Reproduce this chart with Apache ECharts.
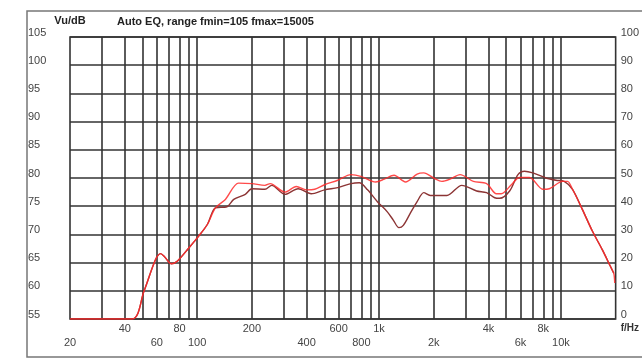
<!DOCTYPE html>
<html>
<head>
<meta charset="utf-8">
<script src="https://cdn.jsdelivr.net/npm/echarts@6/dist/echarts.min.js"></script>
<style>
  html, body {margin: 0; padding: 0; background: #fff;}
  #chart {width: 642px; height: 358px;}
</style>
</head>
<body>
<div id="chart"></div>
<script>
// frequency grid and tick labels (Hz)
const gridFreqs = [30, 40, 50, 60, 70, 80, 90, 100, 200, 300, 400, 500, 600, 700, 800, 900,
  1000, 2000, 3000, 4000, 5000, 6000, 7000, 8000, 9000, 10000];
const upperLabels = [40, 80, 200, 600, 1000, 4000, 8000];
const lowerLabels = [20, 60, 100, 400, 800, 2000, 6000, 10000];

// red curve
const redFreq = [20, 44, 51, 59, 63, 66, 72, 78, 90, 102, 114, 126, 143, 169, 200, 236, 252,
  304, 351, 399, 443, 502, 593, 701, 795, 959, 1070, 1209, 1399, 1620, 1762, 1998, 2216, 2460,
  2790, 3302, 3902, 4422, 4700, 5340, 5924, 6718, 7948, 8634, 10218, 10878, 11586, 13136,
  14890, 16884, 18738, 19526, 19772];
const redDb = [55, 55, 59.9, 65.5, 66.6, 66.1, 64.8, 65.3, 67.6, 69.7, 71.8, 74.7, 76.2, 79.1,
  79.0, 78.7, 79.0, 77.5, 78.5, 77.9, 78.0, 78.8, 79.6, 80.6, 80.3, 79.3, 79.8, 80.5, 79.3,
  80.7, 80.9, 80.0, 79.4, 79.8, 80.6, 79.4, 79.0, 77.2, 77.2, 78.8, 80.1, 80.1, 78.0, 78.1,
  79.4, 79.4, 78.0, 74.4, 70.6, 67.3, 64.3, 63.1, 61.4];

// dark curve
const darkFreq = [20, 44, 51, 59, 63, 66, 72, 78, 90, 102, 114, 126, 146, 159, 184, 200, 236,
  257, 304, 359, 424, 502, 593, 701, 779, 865, 980, 1111, 1200, 1287, 1360, 1489, 1620, 1762,
  1914, 2360, 2850, 3442, 3902, 4328, 4610, 5226, 5808, 6310, 7010, 8284, 9392, 10424, 11586,
  13136, 14890, 16884, 18738, 19526];
const darkDb = [55, 55, 59.9, 65.5, 66.6, 66.1, 64.8, 65.3, 67.6, 69.7, 71.8, 74.7, 74.9, 76.2,
  77.1, 78.1, 78.0, 78.7, 77.1, 78.1, 77.2, 77.9, 78.3, 79.0, 79.15, 77.9, 75.8, 74.0, 72.5,
  71.2, 71.6, 73.8, 75.8, 77.4, 76.9, 76.9, 78.7, 77.7, 77.4, 76.5, 76.4, 77.7, 80.6, 81.2,
  80.9, 80.0, 79.6, 79.4, 78.0, 74.4, 70.6, 67.3, 64.3, 63.1];

const pairs = (xs, ys) => xs.map((x, i) => [x, ys[i]]);
const fmtHz = v => v >= 1000 ? (v / 1000) + 'k' : String(v);
const labelColor = '#444';
const gridColor = '#333';

const chart = echarts.init(document.getElementById('chart'));

const xBase = {
  type: 'log',
  logBase: 10,
  min: 20,
  max: 20000,
  position: 'bottom',
  splitLine: {show: false},
  axisLine: {show: false},
};

chart.setOption({
  animation: false,
  textStyle: {fontFamily: 'Liberation Sans, Arial, sans-serif'},
  title: {
    text: 'Auto EQ, range fmin=105 fmax=15005',
    left: 112,
    top: 11,
    textStyle: {fontSize: 11, fontWeight: 'bold', color: '#222'},
  },
  graphic: [{
    type: 'rect',
    z: -10,
    shape: {x: 27, y: 11, width: 650, height: 346},
    style: {fill: 'none', stroke: '#777', lineWidth: 1.5},
  }],
  grid: {
    left: 70, right: 23, top: 37, bottom: 39,
    show: true, borderColor: gridColor, borderWidth: 1.6,
  },
  xAxis: [{
    ...xBase,
    name: 'f/Hz',
    nameLocation: 'end',
    nameGap: 5,
    nameMoveOverlap: false,
    nameTextStyle: {fontSize: 10, fontWeight: 'bold', color: '#333', align: 'left',
      verticalAlign: 'top', padding: [4, 0, 0, 0]},
    axisTick: {show: true, inside: true, length: 282, customValues: gridFreqs,
      lineStyle: {color: gridColor, width: 1.6}},
    axisLabel: {customValues: upperLabels, formatter: fmtHz, margin: 4,
      fontSize: 11, color: labelColor},
  }, {
    ...xBase,
    axisTick: {show: false},
    axisLabel: {customValues: lowerLabels, formatter: fmtHz, margin: 18,
      fontSize: 11, color: labelColor},
  }],
  yAxis: [{
    type: 'value',
    min: 55, max: 105, interval: 5,
    name: 'Vu/dB',
    nameLocation: 'end',
    nameGap: 11,
    nameMoveOverlap: false,
    nameTextStyle: {fontSize: 11, fontWeight: 'bold', color: '#222', align: 'center'},
    axisLine: {show: false},
    axisTick: {show: false},
    splitLine: {lineStyle: {color: gridColor, width: 1.6}},
    axisLabel: {align: 'left', margin: 42, fontSize: 11, color: labelColor,
      verticalAlign: 'bottom', lineHeight: 9},
  }, {
    type: 'value',
    min: 0, max: 100, interval: 10,
    axisLine: {show: false},
    axisTick: {show: false},
    splitLine: {show: false},
    axisLabel: {align: 'left', margin: 5, fontSize: 11, color: labelColor,
      verticalAlign: 'bottom', lineHeight: 9},
  }],
  series: [{
    type: 'line',
    data: pairs(darkFreq, darkDb),
    showSymbol: false,
    smooth: 0.3,
    lineStyle: {color: '#8c3434', width: 1.4},
  }, {
    type: 'line',
    data: pairs(redFreq, redDb),
    showSymbol: false,
    smooth: 0.3,
    lineStyle: {color: '#ff2a2a', width: 1.4, opacity: 0.85},
  }],
});
</script>
</body>
</html>
